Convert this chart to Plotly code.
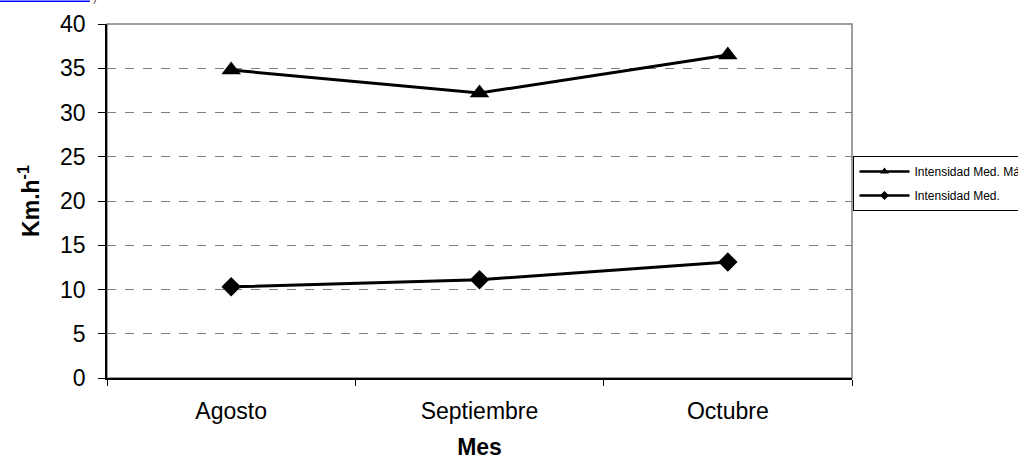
import plotly.graph_objects as go

meses = ["Agosto", "Septiembre", "Octubre"]
intensidad_max = [34.8, 32.2, 36.5]
intensidad_med = [10.3, 11.1, 13.1]
nombre_max = "Intensidad Med. Máx."
nombre_med = "Intensidad Med."

FONT = "Arial, Liberation Sans, sans-serif"

fig = go.Figure()

# data traces
fig.add_trace(go.Scatter(
    x=meses, y=intensidad_max, mode="lines+markers", name=nombre_max,
    line=dict(color="black", width=3),
    marker=dict(symbol="triangle-up", size=17, color="black"),
    showlegend=False))
fig.add_trace(go.Scatter(
    x=meses, y=intensidad_med, mode="lines+markers", name=nombre_med,
    line=dict(color="black", width=3),
    marker=dict(symbol="diamond", size=15, color="black"),
    showlegend=False))

# legend-only entries (small markers as in the reference)
fig.add_trace(go.Scatter(
    x=[None], y=[None], mode="lines+markers", name=nombre_max,
    legendgroup="a",
    line=dict(color="black", width=2.5),
    marker=dict(symbol="triangle-up", size=8, color="black")))
fig.add_trace(go.Scatter(
    x=[None], y=[None], mode="lines+markers", name=nombre_med,
    legendgroup="b",
    line=dict(color="black", width=2.5),
    marker=dict(symbol="diamond", size=7, color="black")))

fig.update_layout(
    width=1018, height=461,
    margin=dict(l=107, r=166, t=24, b=83, autoexpand=False),
    paper_bgcolor="white", plot_bgcolor="white",
    font=dict(family=FONT, color="black", size=23),
    legend=dict(
        x=1.002, xanchor="left", y=0.627, yanchor="top",
        bordercolor="black", borderwidth=1, bgcolor="white",
        font=dict(size=12, family=FONT),
        itemwidth=50, traceorder="grouped", tracegroupgap=5,
    ),
    xaxis=dict(
        type="category", tickson="boundaries", range=[-0.5, 2.5],
        showline=True, linecolor="black", linewidth=1.5,
        ticks="outside", ticklen=6, tickcolor="black", tickwidth=1,
        showgrid=False, zeroline=False,
        tickfont=dict(size=23),
        ticklabelstandoff=12,
        title=dict(text="<b>Mes</b>", font=dict(size=23), standoff=16),
    ),
    yaxis=dict(
        range=[0, 40], dtick=5, tick0=0,
        showline=True, linecolor="black", linewidth=1.5,
        ticks="outside", ticklen=7, tickcolor="black", tickwidth=1,
        showgrid=True, gridcolor="#808080", griddash="dash", gridwidth=1,
        zeroline=False,
        tickfont=dict(size=23),
        ticklabelstandoff=8,
        title=dict(text="<b>Km.h<sup>-1</sup></b>", font=dict(size=23), standoff=14),
    ),
    shapes=[
        dict(type="rect", xref="paper", yref="paper", x0=0, x1=1, y0=0, y1=1,
             line=dict(color="#808080", width=1.5), layer="below"),
        dict(type="line", xref="paper", yref="paper", x0=-0.1436, x1=-0.023,
             y0=1.064, y1=1.064, line=dict(color="blue", width=1.5)),
    ],
    annotations=[
        dict(text=")", xref="paper", yref="paper", x=-0.021, y=1.075,
             xanchor="left", yanchor="middle", showarrow=False,
             font=dict(size=12, color="#555555")),
    ],
)

fig.write_html("out.html", config={"displayModeBar": False},
               post_script="document.body.style.margin='0';")
